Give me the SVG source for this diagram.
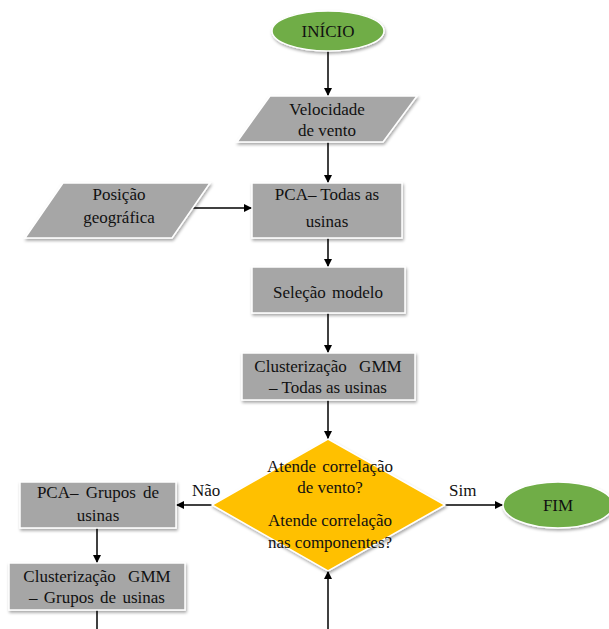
<svg xmlns="http://www.w3.org/2000/svg" width="609" height="629" viewBox="0 0 609 629" font-family="'Liberation Serif', 'Times New Roman', serif">
<defs>
  <filter id="sh" x="-10%" y="-10%" width="125%" height="130%">
    <feDropShadow dx="1" dy="2" stdDeviation="1.5" flood-color="#000" flood-opacity="0.35"/>
  </filter>
  <marker id="ah" viewBox="0 0 10 10" refX="10" refY="5" markerWidth="8" markerHeight="8" markerUnits="userSpaceOnUse" orient="auto">
    <path d="M0,0 L10,5 L0,10 z" fill="#000"/>
  </marker>
  <style>
    .box{fill:#A6A6A6;stroke:#fff;stroke-width:1.5;filter:url(#sh)}
    .term{fill:#70AD47;stroke:#fff;stroke-width:1.5;filter:url(#sh)}
    .dec{fill:#FFC000;stroke:#fff;stroke-width:1.5;filter:url(#sh)}
    .t{font-family:'Liberation Serif','Times New Roman',serif;font-size:17px;fill:#111;text-anchor:middle}
    .lbl{font-family:'Liberation Serif','Times New Roman',serif;font-size:17px;fill:#111}
    .c{stroke:#000;stroke-width:1.5;fill:none}
  </style>
</defs>
<rect width="609" height="629" fill="#fff"/>

<g id="connectors">
  <line class="c" x1="328" y1="51" x2="328" y2="96" marker-end="url(#ah)"/>
  <line class="c" x1="328" y1="142" x2="328" y2="183" marker-end="url(#ah)"/>
  <line class="c" x1="193" y1="208" x2="252" y2="208" marker-end="url(#ah)"/>
  <line class="c" x1="328" y1="238" x2="328" y2="267" marker-end="url(#ah)"/>
  <line class="c" x1="328" y1="313" x2="328" y2="353" marker-end="url(#ah)"/>
  <line class="c" x1="328" y1="400" x2="328" y2="439" marker-end="url(#ah)"/>
  <line class="c" x1="212" y1="505" x2="176" y2="505" marker-end="url(#ah)"/>
  <line class="c" x1="445" y1="505" x2="503" y2="505" marker-end="url(#ah)"/>
  <line class="c" x1="97" y1="528" x2="97" y2="563" marker-end="url(#ah)"/>
  <line class="c" x1="97" y1="610" x2="97" y2="629"/>
  <line class="c" x1="328" y1="629" x2="328" y2="571" marker-end="url(#ah)"/>
  <text class="lbl" x="192" y="496">Não</text>
  <text class="lbl" x="449" y="496">Sim</text>
</g>

<g id="inicio">
  <ellipse class="term" cx="328" cy="31" rx="56" ry="20"/>
  <text class="t" x="328" y="37">INÍCIO</text>
</g>

<g id="velocidade">
  <polygon class="box" points="270,96 417,96 383,142 237,142"/>
  <text class="t" x="327" y="115">Velocidade</text>
  <text class="t" x="327" y="136">de vento</text>
</g>

<g id="posicao">
  <polygon class="box" points="63,183 210,183 172,238 25,238"/>
  <text class="t" x="119" y="200">Posição</text>
  <text class="t" x="119" y="223">geográfica</text>
</g>

<g id="pca-todas">
  <rect class="box" x="252" y="183" width="150" height="55"/>
  <text class="t" x="327" y="200">PCA– Todas as</text>
  <text class="t" x="327" y="227">usinas</text>
</g>

<g id="selecao">
  <rect class="box" x="252" y="267" width="153" height="46"/>
  <text class="t" x="328" y="298" style="word-spacing:2px">Seleção modelo</text>
</g>

<g id="cluster-todas">
  <rect class="box" x="242" y="353" width="173" height="47"/>
  <text class="t" x="328" y="372" style="word-spacing:8px">Clusterização GMM</text>
  <text class="t" x="328" y="393">– Todas as usinas</text>
</g>

<g id="decisao">
  <polygon class="dec" points="328,439 445,505 328,571 212,505"/>
  <text class="t" x="330" y="472" style="word-spacing:2px">Atende correlação</text>
  <text class="t" x="330" y="493">de vento?</text>
  <text class="t" x="330" y="526">Atende correlação</text>
  <text class="t" x="330" y="548">nas componentes?</text>
</g>

<g id="fim">
  <ellipse class="term" cx="558" cy="505" rx="55" ry="23"/>
  <text class="t" x="558" y="511">FIM</text>
</g>

<g id="pca-grupos">
  <rect class="box" x="20" y="482" width="156" height="46"/>
  <text class="t" x="98" y="498" style="word-spacing:3px">PCA– Grupos de</text>
  <text class="t" x="98" y="521">usinas</text>
</g>

<g id="cluster-grupos">
  <rect class="box" x="9" y="563" width="176" height="47"/>
  <text class="t" x="97" y="582" style="word-spacing:8px">Clusterização GMM</text>
  <text class="t" x="97" y="603" style="word-spacing:2px">– Grupos de usinas</text>
</g>
</svg>
